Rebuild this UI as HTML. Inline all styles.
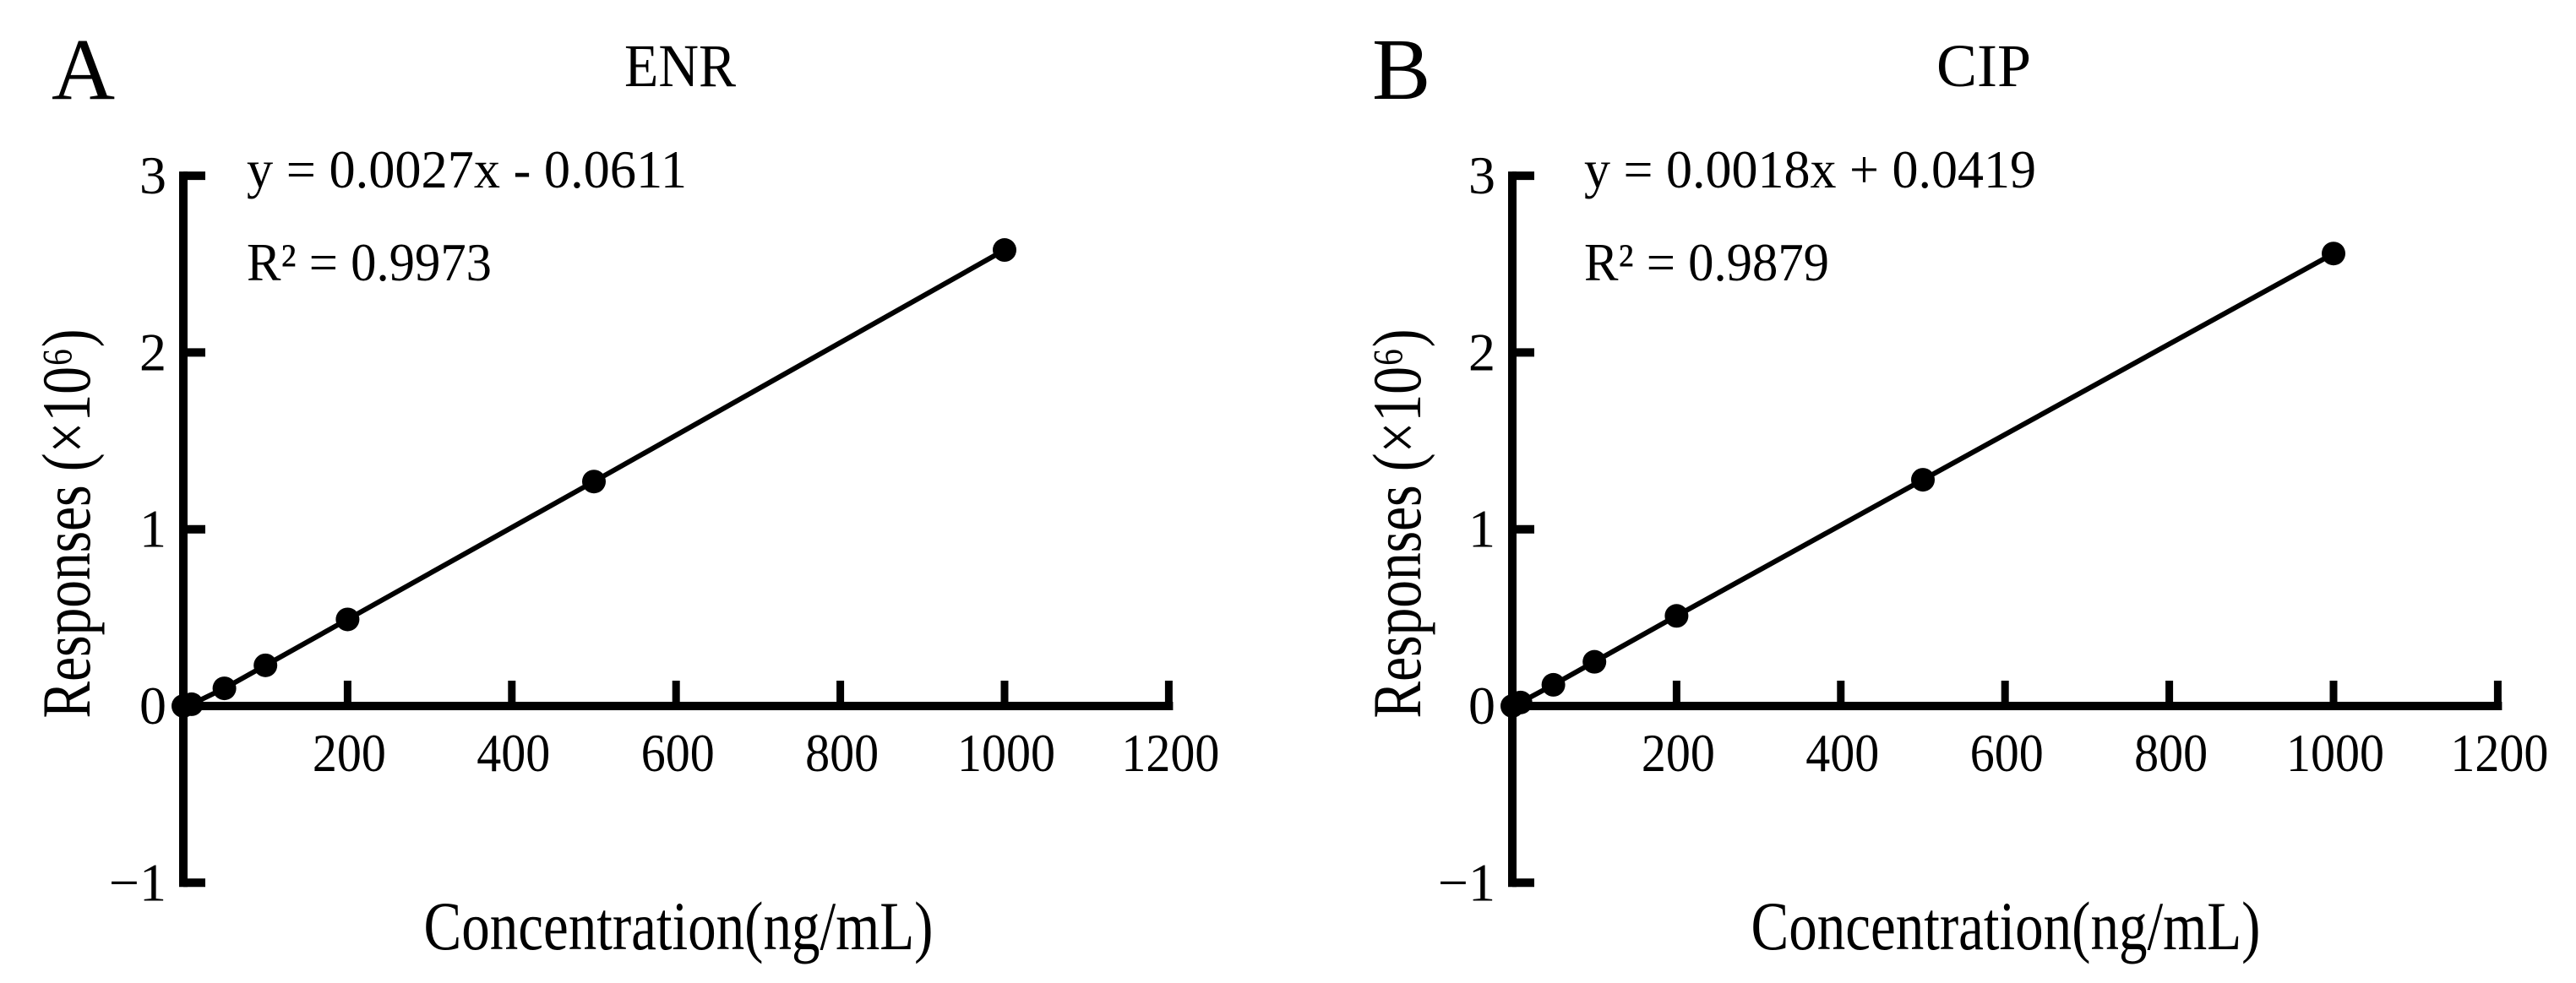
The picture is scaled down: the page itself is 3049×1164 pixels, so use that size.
<!DOCTYPE html>
<html><head><meta charset="utf-8"><style>
html,body{margin:0;padding:0;background:#fff;}
svg{display:block;font-family:"Liberation Serif",serif;}
</style></head><body>
<svg id="fig" width="3049" height="1164" viewBox="0 0 3049 1164"></svg>
<script>
const concentrations = [0, 10, 50, 100, 200, 500, 1000];
const enrResponses = [0, 0.01, 0.10, 0.23, 0.49, 1.27, 2.58];
const cipResponses = [0, 0.02, 0.12, 0.25, 0.51, 1.28, 2.56];
const xTicks = [200, 400, 600, 800, 1000, 1200];
const xTickLabels = ["200", "400", "600", "800", "1000", "1200"];
const yTicks = [-1, 0, 1, 2, 3];
const yTickLabels = ["\u22121", "0", "1", "2", "3"];

const NS = "http://www.w3.org/2000/svg";
const svg = document.getElementById("fig");
function mk(tag, attrs, parent, text) {
  const e = document.createElementNS(NS, tag);
  for (const k in attrs) e.setAttribute(k, attrs[k]);
  if (text !== undefined) e.textContent = text;
  (parent || svg).appendChild(e);
  return e;
}

function panel(o) {
  const g = mk("g", {});
  
  
  const x0 = o.x0, xPer = 194.4 / 200, y0 = 836, yUnit = 209.3;
  const sx = v => x0 + v * xPer;
  const sy = v => y0 - v * yUnit;

  const letter = mk("text", {x: o.letterX, y: 117, "font-size": 104}, g, o.letter);
  
  
  const title = mk("text", {x: o.titleX, y: 102, "font-size": 72, "text-anchor": "middle", textLength: o.titleLen, lengthAdjust: "spacingAndGlyphs"}, g, o.title);
  
  

  const yAxis = mk("line", {x1: x0, y1: sy(3) - 5, x2: x0, y2: sy(-1) + 5, stroke: "#000", "stroke-width": 10}, g);
  
  
  const xAxis = mk("line", {x1: x0 - 5, y1: y0, x2: sx(1200) + 5, y2: y0, stroke: "#000", "stroke-width": 10}, g);
  
  

  yTicks.forEach((t, i) => {
    if (t !== 0) {
      const tk = mk("line", {x1: x0, y1: sy(t), x2: x0 + 26, y2: sy(t), stroke: "#000", "stroke-width": 10}, g);
      
      
    }
    const lb = mk("text", {x: x0 - 20, y: sy(t) + 21, "font-size": 64, "text-anchor": "end"}, g, yTickLabels[i]);
    
    
  });
  xTicks.forEach((t, i) => {
    const tk = mk("line", {x1: sx(t), y1: y0, x2: sx(t), y2: y0 - 30, stroke: "#000", "stroke-width": 9}, g);
    
    
    const lb = mk("text", {x: sx(t) + 2, y: 913, "font-size": 64, "text-anchor": "middle", textLength: xTickLabels[i].length * 29, lengthAdjust: "spacingAndGlyphs"}, g, xTickLabels[i]);
    
    
  });

  const pts = concentrations.map((c, i) => sx(c) + "," + sy(o.data[i])).join(" ");
  const line = mk("polyline", {points: pts, fill: "none", stroke: "#000", "stroke-width": 6}, g);
  
  
  concentrations.forEach((c, i) => {
    const p = mk("circle", {cx: sx(c), cy: sy(o.data[i]), r: 14, fill: "#000"}, g);
    
    
  });

  const eq = mk("text", {x: o.eqX, y: 222, "font-size": 64, textLength: o.eqLen, lengthAdjust: "spacingAndGlyphs"}, g, o.eq);
  
  
  const r2 = mk("text", {x: o.eqX, y: 332, "font-size": 64, textLength: 290, lengthAdjust: "spacingAndGlyphs"}, g);
  
  
  r2.textContent = "R\u00B2 = " + o.r2;

  const xt = mk("text", {x: o.xTitleX, y: 1124, "font-size": 82, "text-anchor": "middle", textLength: 603, lengthAdjust: "spacingAndGlyphs"}, g, "Concentration(ng/mL)");
  
  
  const yt = mk("text", {x: 0, y: 0, "font-size": 82, "text-anchor": "middle", textLength: 461, lengthAdjust: "spacingAndGlyphs", transform: "translate(" + o.yTitleX + ",620) rotate(-90)"}, g, "Responses (\u00D710\u2076)");
  
  
}

panel({id: "enr", letter: "A", letterX: 61, title: "ENR", titleX: 805, titleLen: 132, x0: 217, data: enrResponses,
  eq: "y = 0.0027x - 0.0611", eqX: 292, eqLen: 521, r2: "0.9973", xTitleX: 803, yTitleX: 106});
panel({id: "cip", letter: "B", letterX: 1624, title: "CIP", titleX: 2348, titleLen: 112, x0: 1790, data: cipResponses,
  eq: "y = 0.0018x + 0.0419", eqX: 1875, eqLen: 535, r2: "0.9879", xTitleX: 2374, yTitleX: 1681});
</script>
</body></html>
